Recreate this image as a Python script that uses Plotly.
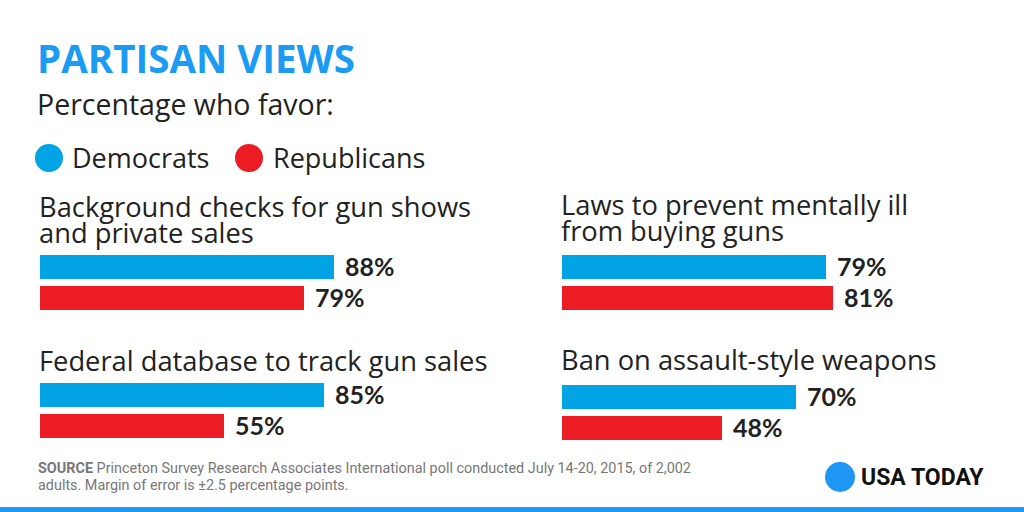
import plotly.graph_objects as go

# ---------------- data ----------------
TITLE = "PARTISAN VIEWS"
SUBTITLE = "Percentage who favor:"
SERIES = ["Democrats", "Republicans"]
QUESTIONS = [
    ["Background checks for gun shows", "and private sales"],
    ["Federal database to track gun sales"],
    ["Laws to prevent mentally ill", "from buying guns"],
    ["Ban on assault-style weapons"],
]
DEMOCRATS = [88, 85, 79, 70]
REPUBLICANS = [79, 55, 81, 48]
SOURCE_BOLD = "SOURCE"
SOURCE_LINE1 = " Princeton Survey Research Associates International poll conducted July 14-20, 2015, of 2,002"
SOURCE_LINE2 = "adults. Margin of error is ±2.5 percentage points."
BRAND = "USA TODAY"

# ---------------- styles ----------------
W, H = 1024, 512
BLUE = "#00a3e4"
RED = "#ec1c24"
TITLE_BLUE = "#1c9bf3"
DARK = "#222222"
GREY = "#777777"
FONT = "Open Sans"
NUMFONT = "Lato"

def px(x):
    return x / W

def py(y):
    return 1 - y / H

# panel layout in pixels: bar left edge, democrat bar centre, title line centres
PANELS = [
    dict(x0=40, c=266, ty=[206, 232]),
    dict(x0=40, c=394, ty=[360]),
    dict(x0=562, c=266, ty=[204, 230]),
    dict(x0=562, c=396, ty=[359]),
]
STEP = 31       # distance between bar centres
FULL = 334      # pixels for 100 %
BAR_W = 24 / STEP

fig = go.Figure()
annotations = []
shapes = []

for i, (p, q) in enumerate(zip(PANELS, QUESTIONS)):
    n = "" if i == 0 else str(i + 1)
    vals = [DEMOCRATS[i], REPUBLICANS[i]]
    fig.add_trace(go.Bar(
        x=vals, y=[0, 1], orientation="h",
        marker=dict(color=[BLUE, RED], line=dict(width=0)),
        width=BAR_W, xaxis="x" + n, yaxis="y" + n,
        hoverinfo="skip", showlegend=False,
    ))
    top = p["c"] - STEP / 2
    bot = p["c"] + STEP + STEP / 2
    fig.layout["xaxis" + n] = dict(domain=[px(p["x0"]), px(p["x0"] + FULL)], range=[0, 100],
                                   visible=False, fixedrange=True, anchor="y" + n)
    fig.layout["yaxis" + n] = dict(domain=[py(bot), py(top)], range=[1.5, -0.5],
                                   visible=False, fixedrange=True, anchor="x" + n)
    for j, v in enumerate(vals):
        annotations.append(dict(
            x=v, y=j, xref="x" + n, yref="y" + n, xanchor="left", yanchor="middle",
            xshift=9, text=f"<b>{v}%</b>", showarrow=False,
            font=dict(family=NUMFONT, size=25, color=DARK),
        ))
    for line, ty in zip(q, p["ty"]):
        annotations.append(dict(
            x=px(p["x0"] - 3), y=py(ty), xref="paper", yref="paper",
            xanchor="left", yanchor="middle", text=line, showarrow=False,
            font=dict(family=FONT, size=27.3, color=DARK),
        ))

# title & subtitle
annotations.append(dict(x=px(35), y=py(58), xref="paper", yref="paper", xanchor="left",
                        yanchor="middle", text=f"<b>{TITLE}</b>", showarrow=False,
                        font=dict(family=FONT, size=38.5, color=TITLE_BLUE, weight=800)))
annotations.append(dict(x=px(35), y=py(104), xref="paper", yref="paper", xanchor="left",
                        yanchor="middle", text=SUBTITLE, showarrow=False,
                        font=dict(family=FONT, size=28.5, color=DARK)))

# legend
for name, color, cx, tx in [(SERIES[0], BLUE, 49, 70), (SERIES[1], RED, 249, 271)]:
    shapes.append(dict(type="circle", xref="paper", yref="paper",
                       x0=px(cx - 14), x1=px(cx + 14), y0=py(158 + 14), y1=py(158 - 14),
                       fillcolor=color, line=dict(width=0)))
    annotations.append(dict(x=px(tx), y=py(157), xref="paper", yref="paper", xanchor="left",
                            yanchor="middle", text=name, showarrow=False,
                            font=dict(family=FONT, size=27, color=DARK)))

# footer
annotations.append(dict(x=px(36), y=py(468), xref="paper", yref="paper", xanchor="left",
                        yanchor="middle", text=f"<b>{SOURCE_BOLD}</b>{SOURCE_LINE1}", showarrow=False,
                        font=dict(family="Roboto", size=14.4, color=GREY)))
annotations.append(dict(x=px(36), y=py(485), xref="paper", yref="paper", xanchor="left",
                        yanchor="middle", text=SOURCE_LINE2, showarrow=False,
                        font=dict(family="Roboto", size=14.4, color=GREY)))

# brand
shapes.append(dict(type="circle", xref="paper", yref="paper",
                   x0=px(825), x1=px(855), y0=py(492), y1=py(462),
                   fillcolor="#1e96f3", line=dict(width=0)))
annotations.append(dict(x=px(859), y=py(477), xref="paper", yref="paper", xanchor="left",
                        yanchor="middle", text=f"<b>{BRAND}</b>", showarrow=False,
                        font=dict(family="Roboto", size=23, color="#111111", weight=900)))
# bottom strip
shapes.append(dict(type="rect", xref="paper", yref="paper", x0=0, x1=1, y0=0, y1=py(507),
                   fillcolor="#1e9af3", line=dict(width=0)))

fig.update_layout(
    width=W, height=H, margin=dict(l=0, r=0, t=0, b=0),
    paper_bgcolor="white", plot_bgcolor="white",
    annotations=annotations, shapes=shapes, bargap=0,
    showlegend=False,
)
fig.write_html("out.html", config={"displayModeBar": False},
               post_script="document.body.style.margin='0';document.body.style.overflow='hidden';")
